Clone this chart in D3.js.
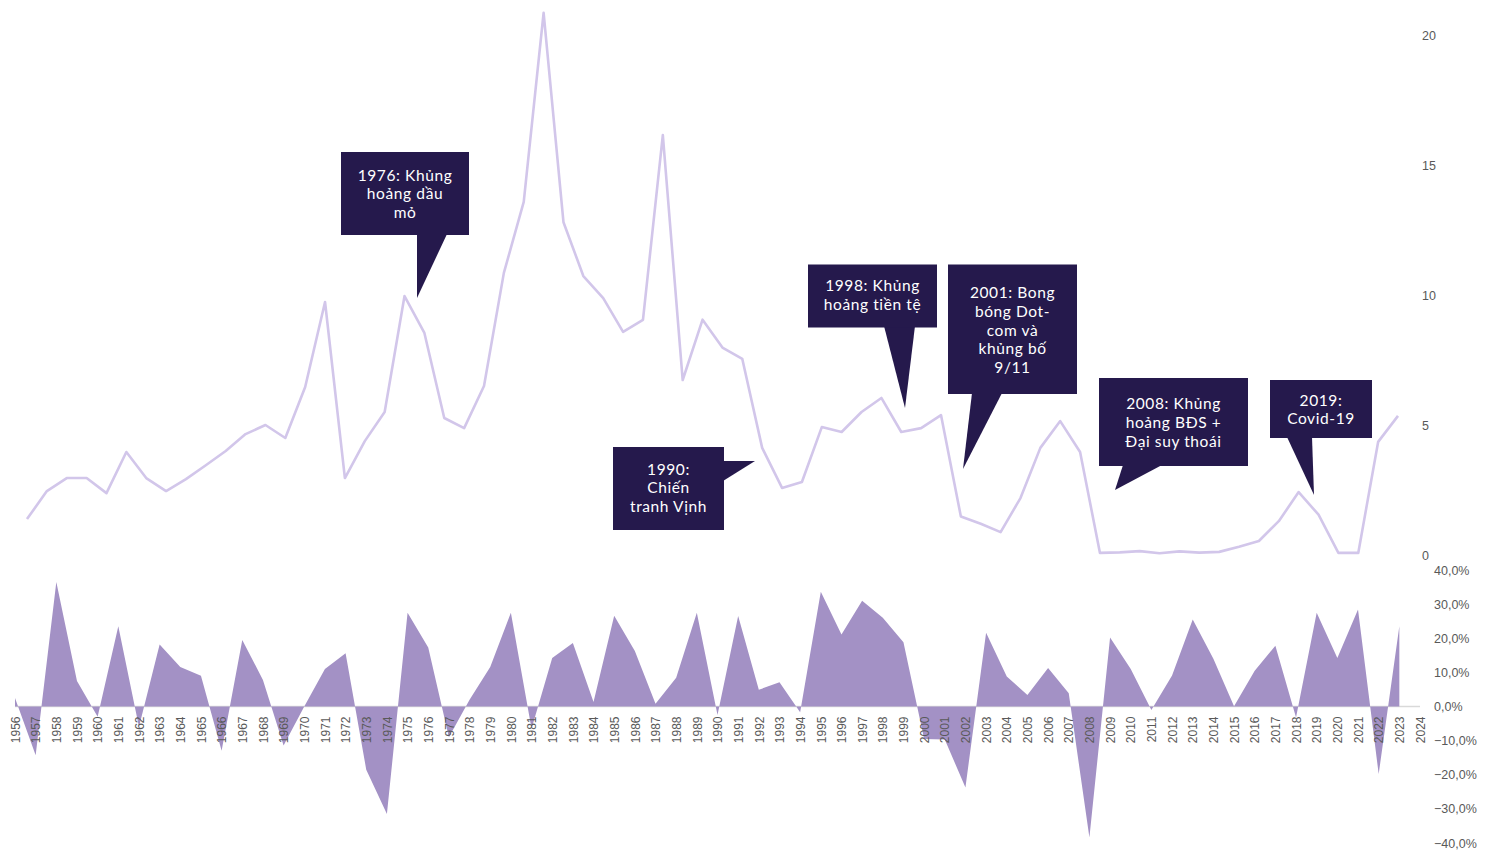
<!DOCTYPE html>
<html>
<head>
<meta charset="utf-8">
<script src="https://cdn.jsdelivr.net/npm/d3@7"></script>
<style>
  html, body { margin: 0; padding: 0; background: #ffffff; }
  svg { display: block; }
</style>
</head>
<body>
<svg id="chart" width="1491" height="852"></svg>
<script>
// Policy rate (top panel), year-end level, %
const rateYears = [1954,1955,1956,1957,1958,1959,1960,1961,1962,1963,1964,1965,1966,1967,1968,1969,
  1970,1971,1972,1973,1974,1975,1976,1977,1978,1979,1980,1981,1982,1983,1984,1985,1986,1987,1988,1989,
  1990,1991,1992,1993,1994,1995,1996,1997,1998,1999,2000,2001,2002,2003,2004,2005,2006,2007,2008,2009,
  2010,2011,2012,2013,2014,2015,2016,2017,2018,2019,2020,2021,2022,2023];
const rateValues = [1.38,2.46,2.96,2.96,2.38,3.96,2.96,2.46,2.92,3.45,4.0,4.65,5.0,4.5,6.46,9.73,
  2.96,4.38,5.5,9.96,8.54,5.27,4.88,6.5,10.85,13.58,20.85,12.8,10.73,9.88,8.58,9.04,16.15,6.73,9.05,7.98,
  7.54,4.12,2.58,2.81,4.92,4.73,5.5,6.04,4.73,4.88,5.38,1.48,1.2,0.88,2.19,4.12,5.15,3.96,0.08,0.1,
  0.15,0.07,0.14,0.09,0.12,0.32,0.54,1.3,2.42,1.55,0.08,0.08,4.35,5.35];
const rateTicks = [0, 5, 10, 15, 20];

// Annual index return (bottom panel)
const returnYears = [1956,1957,1958,1959,1960,1961,1962,1963,1964,1965,1966,1967,1968,1969,1970,
  1971,1972,1973,1974,1975,1976,1977,1978,1979,1980,1981,1982,1983,1984,1985,1986,1987,1988,1989,1990,
  1991,1992,1993,1994,1995,1996,1997,1998,1999,2000,2001,2002,2003,2004,2005,2006,2007,2008,2009,2010,
  2011,2012,2013,2014,2015,2016,2017,2018,2019,2020,2021,2022,2023,2024];
const returnValues = [0.025,-0.143,0.365,0.075,-0.030,0.235,-0.060,0.182,0.116,0.090,-0.130,0.195,0.078,-0.114,0.000,
  0.110,0.156,-0.185,-0.315,0.275,0.173,-0.090,0.020,0.116,0.275,-0.065,0.142,0.186,0.013,0.266,0.163,0.008,0.084,0.275,-0.025,
  0.265,0.049,0.071,-0.017,0.336,0.211,0.310,0.260,0.188,-0.095,-0.097,-0.237,0.216,0.088,0.034,0.113,0.039,-0.384,0.202,0.110,
  -0.010,0.091,0.255,0.140,0.001,0.105,0.178,-0.032,0.275,0.142,0.284,-0.198,0.235];
const returnTicks = [-0.4, -0.3, -0.2, -0.1, 0, 0.1, 0.2, 0.3, 0.4];

// Event callouts on the rate line
const eventLabels = [
  ["1976: Khủng", "hoảng dầu", "mỏ"],
  ["1990:", "Chiến", "tranh Vịnh"],
  ["1998: Khủng", "hoảng tiền tệ"],
  ["2001: Bong", "bóng Dot-", "com và", "khủng bố", "9/11"],
  ["2008: Khủng", "hoảng BĐS +", "Đại suy thoái"],
  ["2019:", "Covid-19"]
];

// Callout box geometry: box rect, first text baseline, pointer triangle
const calloutLayout = [
  { x: 341, y: 152, w: 128, h: 83, ty: 180.5, ptr: [[417,234],[447,234],[417,298]] },
  { x: 613, y: 447, w: 111, h: 83, ty: 474.5, ptr: [[723,461],[755,461],[723,481]] },
  { x: 808, y: 264.5, w: 129, h: 63, ty: 291, ptr: [[884,326],[915,326],[905,408]] },
  { x: 948, y: 264.5, w: 129, h: 129.5, ty: 298, ptr: [[972,393],[1002,393],[963,469]] },
  { x: 1099, y: 378, w: 149, h: 88, ty: 409, ptr: [[1123,465],[1162,465],[1115,490]] },
  { x: 1270, y: 380, w: 102, h: 58, ty: 405.5, ptr: [[1287,437],[1312,437],[1314,495]] }
];

const svg = d3.select("#chart");

// ---- scales ----
const xRate = d3.scalePoint().domain(rateYears).range([27, 1398]);
const yRate = d3.scaleLinear().domain([0, 20]).range([555, 35]);
const xRet = d3.scalePoint().domain(returnYears).range([15, 1420]);
const yRet = d3.scaleLinear().domain([-0.4, 0.4]).range([843, 570]);

const returnData = returnValues.map((v, i) => ({ year: returnYears[i], v }));
const rateData = rateValues.map((v, i) => ({ year: rateYears[i], v }));

// ---- bottom panel: return area ----
const area = d3.area()
  .x(d => xRet(d.year))
  .y0(yRet(0))
  .y1(d => yRet(d.v));

svg.append("line")
  .attr("x1", xRet(returnYears[0]))
  .attr("x2", xRet(returnYears[returnYears.length - 1]))
  .attr("y1", yRet(0)).attr("y2", yRet(0))
  .attr("stroke", "#d9d9d9").attr("stroke-width", 1.5);

svg.append("path")
  .datum(returnData)
  .attr("d", area)
  .attr("fill", "#a391c5");

// year labels
const xAxis = d3.axisBottom(xRet).tickSize(0).tickPadding(0);
const xg = svg.append("g")
  .attr("transform", `translate(0, ${yRet(0)})`)
  .call(xAxis);
xg.select(".domain").remove();
xg.selectAll("text")
  .attr("font-family", "'Liberation Sans', Arial, sans-serif")
  .attr("font-size", 12)
  .attr("fill", "#595959")
  .attr("text-anchor", "end")
  .attr("transform", "translate(0,10) rotate(-90)")
  .attr("x", 0)
  .attr("y", 0)
  .attr("dy", "0.35em");

// right axis for returns
const fmtPct = v => d3.format(".1f")(v * 100).replace(".", ",") + "%";
const yRetAxis = d3.axisRight(yRet).tickValues(returnTicks).tickFormat(fmtPct).tickSize(0).tickPadding(0);
const yrg = svg.append("g").attr("transform", "translate(1434,0)").call(yRetAxis);
yrg.select(".domain").remove();
yrg.selectAll("text")
  .attr("font-family", "'Liberation Sans', Arial, sans-serif")
  .attr("font-size", 12.5)
  .attr("fill", "#595959");

// ---- top panel: rate line ----
const line = d3.line()
  .x(d => xRate(d.year))
  .y(d => yRate(d.v));

svg.append("path")
  .datum(rateData)
  .attr("d", line)
  .attr("fill", "none")
  .attr("stroke", "#d2c6ea")
  .attr("stroke-width", 2.6)
  .attr("stroke-linejoin", "round");

const yRateAxis = d3.axisRight(yRate).tickValues(rateTicks).tickFormat(d3.format("d")).tickSize(0).tickPadding(0);
const ytg = svg.append("g").attr("transform", "translate(1422,0)").call(yRateAxis);
ytg.select(".domain").remove();
ytg.selectAll("text")
  .attr("font-family", "'Liberation Sans', Arial, sans-serif")
  .attr("font-size", 12.5)
  .attr("fill", "#595959");

// ---- callouts ----
const calloutColor = "#25194c";
const callouts = svg.append("g").selectAll("g")
  .data(eventLabels.map((lines, i) => ({ lines, box: calloutLayout[i] })))
  .join("g");

callouts.append("path")
  .attr("d", d => "M" + d.box.ptr.map(p => p.join(",")).join("L") + "Z")
  .attr("fill", calloutColor);

callouts.append("rect")
  .attr("x", d => d.box.x).attr("y", d => d.box.y)
  .attr("width", d => d.box.w).attr("height", d => d.box.h)
  .attr("fill", calloutColor);

callouts.each(function(d) {
  const t = d3.select(this).append("text")
    .attr("font-family", "Lato, 'Noto Sans', sans-serif")
    .attr("font-size", 15.5)
    .attr("letter-spacing", 0.6)
    .attr("fill", "#ffffff")
    .attr("text-anchor", "middle");
  d.lines.forEach((s, j) => {
    t.append("tspan")
      .attr("x", d.box.x + d.box.w / 2)
      .attr("y", d.box.ty + j * 18.8)
      .text(s);
  });
});
</script>
</body>
</html>
